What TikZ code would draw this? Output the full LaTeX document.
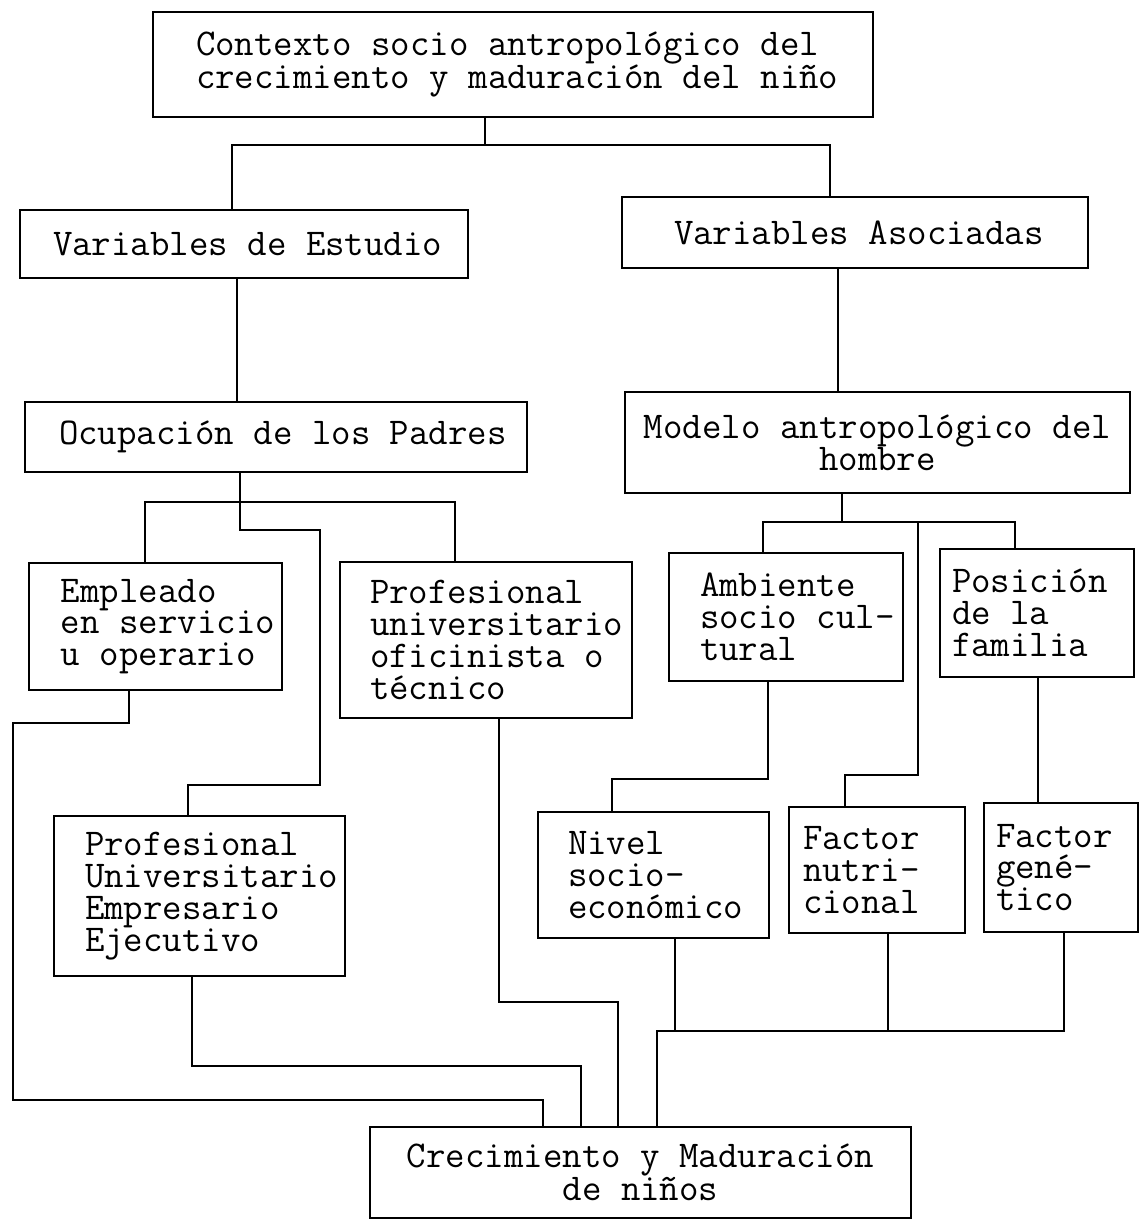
\documentclass[tikz,border=0pt]{standalone}
\usepackage{tikz}
\tikzset{wire/.style={line width=2pt}}
\tikzset{box/.style={draw, line width=2pt, inner sep=0pt, font=\fontsize{37.8}{31.8}\selectfont\ttfamily}}
\tikzset{panel/.style n args={3}{box, align=left, text width=#1pt, minimum height=#2pt, execute at begin node={\leftskip=#3pt\spaceskip=0pt\xspaceskip=0pt}}}
\tikzset{cpanel/.style 2 args={box, align=center, minimum width=#1pt, minimum height=#2pt}}
\begin{document}
\begin{tikzpicture}[x=1pt, y=-1pt]
\useasboundingbox (0,0) rectangle (1139,1221);
% boxes
\node[panel={720}{105}{43}] (ctx) at (513,64.5) {Contexto socio antropológico del\\crecimiento y maduración del niño};
\node[panel={448}{68}{33}] (ve) at (244,244) {Variables de Estudio};
\node[panel={466}{71}{52}] (va) at (855,232.5) {Variables Asociadas};
\node[panel={502}{70}{34}] (ocup) at (276,437) {Ocupación de los Padres};
\node[cpanel={505}{101}] (modelo) at (877.5,442.5) {Modelo antropológico del\\hombre};
\node[panel={253}{127}{32}] (empleado) at (155.5,626.5) {Empleado\\en servicio\\u operario};
\node[panel={292}{156}{30}] (prof) at (486,640) {Profesional\\universitario\\oficinista o\\técnico};
\node[panel={291}{160}{31}] (empresario) at (199.5,896) {Profesional\\Universitario\\Empresario\\Ejecutivo};
\node[panel={234}{128}{31}] (ambiente) at (786,617) {Ambiente\\socio cul-\\tural};
\node[panel={194}{128}{12}] (posicion) at (1037,613) {Posición\\de la\\familia};
\node[panel={231}{126}{30}] (nivel) at (653.5,875) {Nivel\\socio-\\económico};
\node[panel={176}{126}{14}] (nutri) at (877,870) {Factor\\nutri-\\cional};
\node[panel={154}{129}{12}] (genet) at (1061,867.5) {Factor\\gené-\\tico};
\node[cpanel={541}{91}] (crec) at (640.5,1172.5) {Crecimiento y Maduración\\de niños};
% junctions
\coordinate (jctx) at (485,145);
\coordinate (jmod) at (842,522);
\coordinate (jmid) at (918,522);
\coordinate (jniv) at (675,1031);
\coordinate (jnut) at (888,1031);
% connectors
\draw[wire] (ctx.south -| jctx) -- (jctx);
\draw[wire] (ve.north -| 232,0) |- (830,145) -- (va.north -| 830,0);
\draw[wire] (ve.south -| 237,0) -- (ocup.north -| 237,0);
\draw[wire] (va.south -| 838,0) -- (modelo.north -| 838,0);
\draw[wire] (empleado.north -| 145,0) |- (455,502) -- (prof.north -| 455,0);
\draw[wire] (ocup.south -| 240,0) |- (320,530) |- (188,785) -- (empresario.north -| 188,0);
\draw[wire] (empleado.south -| 129,0) |- (13,723) |- (543,1100) -- (crec.north -| 543,0);
\draw[wire] (empresario.south -| 192,0) |- (581,1066) -- (crec.north -| 581,0);
\draw[wire] (prof.south -| 499,0) |- (618,1002) -- (crec.north -| 618,0);
\draw[wire] (modelo.south -| jmod) -- (jmod);
\draw[wire] (ambiente.north -| 763,0) |- (1015,522) -- (posicion.north -| 1015,0);
\draw[wire] (jmid) |- (845,775) -- (nutri.north -| 845,0);
\draw[wire] (ambiente.south -| 768,0) |- (612,779) -- (nivel.north -| 612,0);
\draw[wire] (posicion.south -| 1038,0) -- (genet.north -| 1038,0);
\draw[wire] (crec.north -| 657,0) |- (1064,1031) -- (genet.south -| 1064,0);
\draw[wire] (nivel.south -| jniv) -- (jniv);
\draw[wire] (nutri.south -| jnut) -- (jnut);
\end{tikzpicture}
\end{document}
